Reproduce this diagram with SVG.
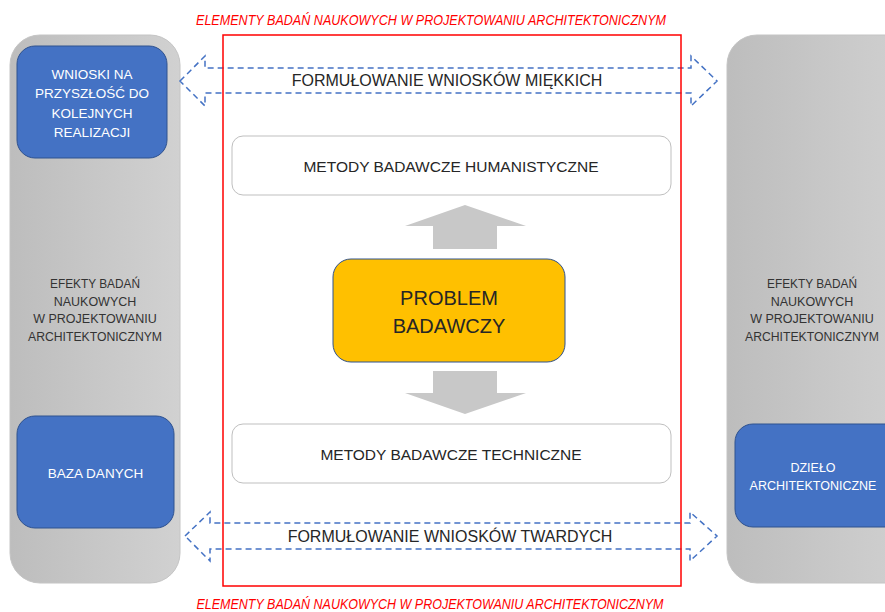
<svg xmlns="http://www.w3.org/2000/svg" width="885" height="612" viewBox="0 0 885 612">
<defs>
<linearGradient id="gp" x1="0" y1="0" x2="1" y2="0">
<stop offset="0" stop-color="#bdbdbd"/>
<stop offset="1" stop-color="#d1d1d1"/>
</linearGradient>
<style>
text{font-family:"Liberation Sans",Arial,sans-serif;text-anchor:middle}
.panel{fill:url(#gp);stroke:#c4c4c4;stroke-width:1}
.blue{fill:#4472c4;stroke:#2f528f;stroke-width:1}
.wt{fill:#ffffff;font-size:13.5px}
.side{fill:#333333;font-size:12.5px}
.meth{fill:#ffffff;stroke:#bfbfbf;stroke-width:1}
.mt{fill:#262626;font-size:15.5px}
.dash{fill:none;stroke:#4472c4;stroke-width:1.5;stroke-dasharray:6 4}
.garr{fill:#c8c8c8}
.title{fill:#ff0000;font-size:14px;font-style:italic}
.ft{fill:#262626;font-size:16px}
</style>
</defs>
<rect width="885" height="612" fill="#ffffff"/>

<g id="left-panel">
<rect class="panel" x="10" y="35" width="170" height="548" rx="30"/>
<text class="side" x="95" y="288" textLength="90" lengthAdjust="spacingAndGlyphs">EFEKTY BADAŃ</text>
<text class="side" x="95" y="306">NAUKOWYCH</text>
<text class="side" x="95" y="323">W PROJEKTOWANIU</text>
<text class="side" x="95" y="341" textLength="134" lengthAdjust="spacingAndGlyphs">ARCHITEKTONICZNYM</text>
</g>
<g id="right-panel">
<rect class="panel" x="727" y="35" width="190" height="548" rx="30"/>
<text class="side" x="812" y="288" textLength="90" lengthAdjust="spacingAndGlyphs">EFEKTY BADAŃ</text>
<text class="side" x="812" y="306">NAUKOWYCH</text>
<text class="side" x="812" y="323">W PROJEKTOWANIU</text>
<text class="side" x="812" y="341" textLength="134" lengthAdjust="spacingAndGlyphs">ARCHITEKTONICZNYM</text>
</g>

<g id="wnioski">
<rect class="blue" x="17" y="46" width="150" height="112" rx="18"/>
<text class="wt" x="92" y="79">WNIOSKI NA</text>
<text class="wt" x="92" y="98">PRZYSZŁOŚĆ DO</text>
<text class="wt" x="92" y="118">KOLEJNYCH</text>
<text class="wt" x="92" y="137">REALIZACJI</text>
</g>
<g id="baza">
<rect class="blue" x="17" y="416" width="157" height="112" rx="18"/>
<text class="wt" x="95.5" y="478">BAZA DANYCH</text>
</g>
<g id="dzielo">
<rect class="blue" x="735" y="424" width="170" height="103" rx="18"/>
<text class="wt" x="813" y="472" style="font-size:12.5px">DZIEŁO</text>
<text class="wt" x="813" y="490" style="font-size:12.5px">ARCHITEKTONICZNE</text>
</g>

<g id="connectors">
<path class="dash" d="M180,81 L205,56 L205,68 L691,68 L691,56 L717,81 L691,106 L691,93 L205,93 L205,106 Z"/>
<path class="dash" d="M185,536 L210,512 L210,523 L690,523 L690,512 L717,536 L690,561 L690,549 L210,549 L210,561 Z"/>
<path class="garr" d="M465,205 L526,226 L497,226 L497,249 L433,249 L433,226 L405,226 Z"/>
<path class="garr" d="M433,371 L497,371 L497,393 L526,393 L465,414 L405,393 L433,393 Z"/>
</g>

<g id="frame">
<rect x="223" y="35" width="458" height="551" fill="none" stroke="#ff0000" stroke-width="1.5"/>
</g>

<g id="soft">
<text class="ft" x="447" y="86">FORMUŁOWANIE WNIOSKÓW MIĘKKICH</text>
</g>
<g id="hard">
<text class="ft" x="450" y="542">FORMUŁOWANIE WNIOSKÓW TWARDYCH</text>
</g>

<g id="humanistyczne">
<rect class="meth" x="232" y="136" width="439" height="59" rx="11"/>
<text class="mt" x="451" y="172">METODY BADAWCZE HUMANISTYCZNE</text>
</g>
<g id="techniczne">
<rect class="meth" x="232" y="424" width="439" height="59" rx="11"/>
<text class="mt" x="451" y="460">METODY BADAWCZE TECHNICZNE</text>
</g>

<g id="problem">
<rect x="333" y="259" width="232" height="103" rx="18" fill="#ffc000" stroke="#2f528f" stroke-width="1"/>
<text x="449" y="305" fill="#262626" style="font-size:20px">PROBLEM</text>
<text x="449" y="333" fill="#262626" style="font-size:20px">BADAWCZY</text>
</g>

<g id="titles">
<text class="title" x="431" y="25" textLength="470" lengthAdjust="spacingAndGlyphs">ELEMENTY  BADAŃ NAUKOWYCH W PROJEKTOWANIU ARCHITEKTONICZNYM</text>
<text class="title" x="430" y="609" textLength="467" lengthAdjust="spacingAndGlyphs">ELEMENTY BADAŃ NAUKOWYCH W PROJEKTOWANIU ARCHITEKTONICZNYM</text>
</g>
</svg>
